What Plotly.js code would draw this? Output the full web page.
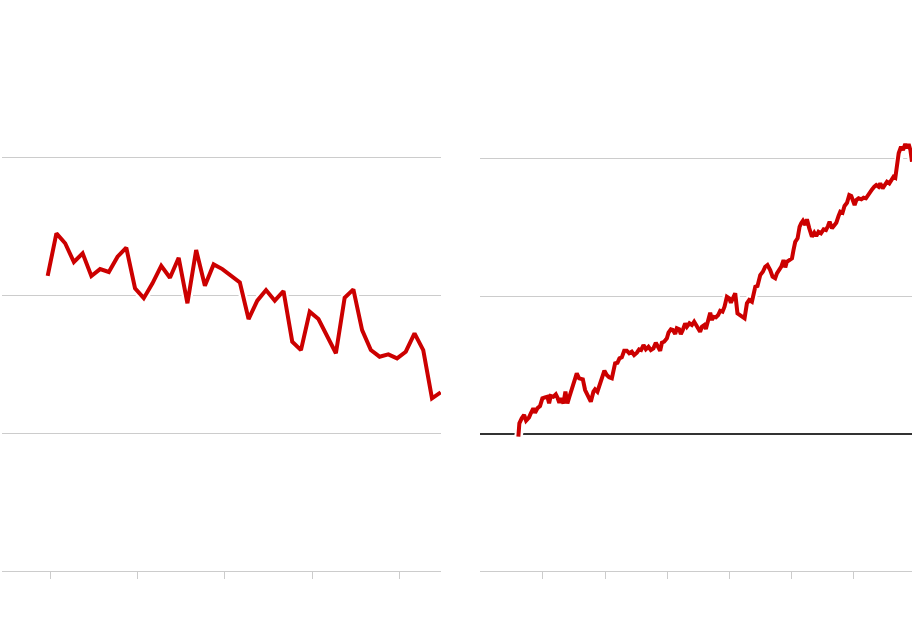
<!DOCTYPE html>
<html>
<head>
<meta charset="utf-8">
<script src="https://cdn.plot.ly/plotly-3.0.1.min.js"></script>
<style>html,body{margin:0;padding:0;background:#fff;}#chart{width:920px;height:634px;}</style>
</head>
<body>
<div id="chart"></div>
<script>
// Left panel: annual series
const leftYears = [1980,1981,1982,1983,1984,1985,1986,1987,1988,1989,1990,1991,1992,1993,1994,1995,1996,1997,1998,1999,2000,2001,2002,2003,2004,2005,2006,2007,2008,2009,2010,2011,2012,2013,2014,2015,2016,2017,2018,2019,2020,2021,2022,2023,2024,2025];
const leftValues = [21.38,24.47,23.75,22.39,23.02,21.38,21.88,21.67,22.78,23.43,20.49,19.77,20.85,22.12,21.25,22.70,19.40,23.26,20.67,22.22,21.88,21.40,20.92,18.26,19.59,20.36,19.59,20.29,16.62,16.01,18.79,18.26,17.05,15.78,19.80,20.41,17.46,16.01,15.53,15.70,15.41,15.89,17.22,16.01,12.51,12.95];
const leftTicks = [1980.27,1990.27,2000.27,2010.27,2020.27];

// Right panel: cumulative-style series (decimal years)
const rightDates = [1993.04,1993.12,1993.31,1993.50,1993.66,1993.90,1994.04,1994.24,1994.38,1994.57,1994.78,1994.97,1995.18,1995.37,1995.51,1995.64,1995.85,1996.05,1996.17,1996.33,1996.47,1996.66,1996.82,1996.98,1997.14,1997.33,1997.52,1997.73,1997.92,1998.22,1998.40,1998.67,1998.86,1999.07,1999.20,1999.39,1999.55,1999.74,1999.95,2000.14,2000.33,2000.55,2000.68,2000.81,2001.00,2001.16,2001.35,2001.54,2001.75,2001.94,2002.15,2002.34,2002.56,2002.74,2002.90,2003.09,2003.28,2003.49,2003.68,2003.89,2004.08,2004.27,2004.43,2004.57,2004.75,2004.97,2005.10,2005.29,2005.45,2005.64,2005.77,2005.96,2006.09,2006.25,2006.44,2006.58,2006.78,2006.98,2007.16,2007.32,2007.51,2007.64,2007.78,2007.97,2008.10,2008.26,2008.45,2008.59,2008.71,2008.91,2009.09,2009.25,2009.44,2009.60,2009.79,2009.98,2010.11,2010.27,2010.46,2010.64,2010.86,2011.05,2011.21,2011.40,2011.58,2011.80,2011.93,2012.07,2012.25,2012.47,2012.68,2012.87,2013.05,2013.27,2013.46,2013.67,2013.81,2014.00,2014.16,2014.34,2014.48,2014.61,2014.82,2015.02,2015.14,2015.28,2015.47,2015.63,2015.76,2015.90,2016.09,2016.22,2016.41,2016.62,2016.81,2016.97,2017.15,2017.35,2017.56,2017.75,2017.91,2018.04,2018.23,2018.42,2018.58,2018.76,2018.90,2019.08,2019.24,2019.44,2019.62,2019.78,2019.92,2020.05,2020.19,2020.37,2020.59,2020.77,2020.96,2021.13,2021.25,2021.45,2021.63,2021.79,2021.98,2022.11,2022.30,2022.46,2022.65,2022.84,2023.00,2023.18,2023.32,2023.46,2023.59,2023.78,2023.94,2024.12,2024.26,2024.39,2024.53,2024.66];
const rightValues = [-1.96,7.77,11.40,13.80,9.66,12.13,15.03,18.66,15.47,18.66,20.33,25.93,26.65,27.09,22.29,27.60,27.09,28.83,26.65,22.73,25.93,22.29,30.72,22.29,27.09,31.95,36.82,44.08,40.45,39.72,31.95,27.09,23.46,30.72,32.46,30.72,35.58,40.45,45.97,42.85,41.18,40.45,46.99,51.34,51.78,54.97,55.70,60.49,60.49,58.61,59.77,57.37,59.04,61.51,61.00,64.63,61.51,63.40,61.00,62.24,66.30,63.40,60.49,66.30,67.03,69.50,73.57,76.03,75.53,72.62,76.76,76.03,72.62,75.53,80.39,77.92,80.39,79.16,81.55,79.16,76.76,74.29,77.92,79.16,76.25,80.83,88.09,82.79,85.19,84.75,86.42,89.54,88.82,92.45,99.71,98.55,95.35,98.55,102.18,87.65,86.42,85.19,84.02,94.92,97.31,96.08,102.18,106.97,107.48,115.47,117.86,121.50,122.73,119.10,114.23,113.07,116.70,119.10,121.50,126.36,121.06,125.13,126.36,127.60,133.62,139.65,142.12,150.54,153.01,154.90,151.78,155.92,149.38,143.28,146.19,143.79,146.91,145.75,148.66,148.15,151.05,154.18,149.38,151.05,153.45,158.32,161.44,160.71,165.58,167.97,173.57,172.84,169.93,166.30,169.93,171.17,170.44,171.60,171.17,173.57,175.96,177.70,179.59,180.83,179.59,182.06,178.43,180.83,183.22,182.06,184.46,186.86,186.13,196.59,203.85,208.64,206.25,210.60,207.48,210.60,206.25,197.75];
const rightTicks = [1995,2000,2005,2010,2015,2020];

const RED = '#cc0000';
const halo = {color: '#ffffff', width: 8.5};
const mainLine = {color: RED, width: 4};

const traces = [
  {x: leftYears, y: leftValues, xaxis: 'x', yaxis: 'y', type: 'scatter', mode: 'lines', line: halo, hoverinfo: 'skip'},
  {x: leftYears, y: leftValues, xaxis: 'x', yaxis: 'y', type: 'scatter', mode: 'lines', line: mainLine},
  {x: rightDates, y: rightValues, xaxis: 'x2', yaxis: 'y2', type: 'scatter', mode: 'lines', line: halo, hoverinfo: 'skip'},
  {x: rightDates, y: rightValues, xaxis: 'x2', yaxis: 'y2', type: 'scatter', mode: 'lines', line: mainLine}
];

const GRID = '#cccccc';
const baseX = {
  showticklabels: false, showgrid: false, zeroline: false,
  showline: true, linecolor: GRID, linewidth: 1,
  ticks: 'outside', ticklen: 7, tickwidth: 1, tickcolor: GRID,
  tickmode: 'array', fixedrange: true
};
const baseY = {
  showticklabels: false, showgrid: true, gridcolor: GRID, gridwidth: 1,
  showline: false, ticks: '', tickmode: 'array', fixedrange: true
};

const layout = {
  width: 920, height: 634,
  margin: {l: 2, r: 8, t: 20, b: 63},
  paper_bgcolor: '#ffffff', plot_bgcolor: '#ffffff',
  showlegend: false,
  xaxis: Object.assign({}, baseX, {domain: [0, 0.4824], range: [1974.77, 2025.03], tickvals: leftTicks, anchor: 'y'}),
  yaxis: Object.assign({}, baseY, {range: [0, 39.93], tickvals: [10, 20, 30], zeroline: false, anchor: 'x'}),
  xaxis2: Object.assign({}, baseX, {domain: [0.5253, 1], range: [1989.96, 2024.66], tickvals: rightTicks, anchor: 'y2'}),
  yaxis2: Object.assign({}, baseY, {range: [-99.5, 300.7], tickvals: [0, 100, 200], zeroline: true, zerolinecolor: '#333333', zerolinewidth: 2, anchor: 'x2'})
};

Plotly.newPlot('chart', traces, layout, {displayModeBar: false, staticPlot: true});
</script>
</body>
</html>
